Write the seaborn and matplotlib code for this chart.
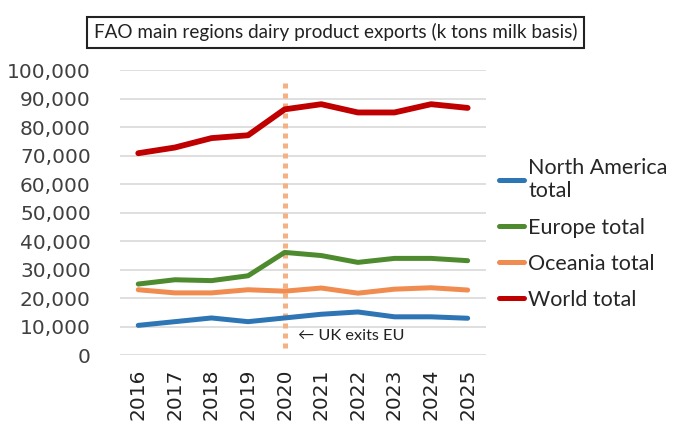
import matplotlib
matplotlib.use("Agg")
import matplotlib.pyplot as plt
import seaborn as sns
import pandas as pd

years = [2016, 2017, 2018, 2019, 2020, 2021, 2022, 2023, 2024, 2025]
north_america = [10400, 11700, 13000, 11700, 13000, 14300, 15100, 13400, 13400, 12900]
europe = [24900, 26400, 26100, 27800, 36000, 34900, 32500, 33900, 33900, 33100]
oceania = [22900, 21800, 21800, 22900, 22400, 23500, 21700, 23100, 23600, 22800]
world = [70800, 72800, 76100, 77100, 86200, 88000, 85100, 85100, 88000, 86700]
series_names = ["North America\ntotal", "Europe total", "Oceania total", "World total"]
colors = ["#2E75B6", "#4E8B2E", "#F08C50", "#C00000"]
title = "FAO main regions dairy product exports (k tons milk basis)"
event_year = 2020
event_label = "\u2190 UK exits EU"

rows = []
for name, vals in zip(series_names, [north_america, europe, oceania, world]):
    for y, v in zip(years, vals):
        rows.append({"year": y, "value": v, "series": name})
df = pd.DataFrame(rows)

sns.set_style("white")
plt.rcParams["font.family"] = ["DejaVu Sans"]

fig = plt.figure(figsize=(6.74, 4.30), dpi=100)
ax = fig.add_axes([0.178, 0.1744, 0.543, 0.6628])

for name, col in zip(series_names, colors):
    sub = df[df["series"] == name]
    lw = 4.2 if name == "World total" else 3.6
    sns.lineplot(data=sub, x="year", y="value", color=col, linewidth=lw,
                 ax=ax, label=name, solid_capstyle="round", solid_joinstyle="round")

ax.vlines(event_year, 2300, 96200, colors="#F4B183", linewidth=3.6,
          linestyles=(0, (1, 1)), zorder=1)
ax.text(event_year + 0.36, 6800, event_label, fontsize=11.7,
        family=["Lato", "DejaVu Sans"], color="#222222", va="center", ha="left")

ax.set_xlim(2015.5, 2025.5)
ax.set_ylim(0, 100000)
ax.set_yticks(range(0, 100001, 10000))
ax.set_yticklabels([f"{v:,}" for v in range(0, 100001, 10000)])
ax.set_xticks(years)
ax.set_xticklabels([str(y) for y in years], rotation=90)
ax.tick_params(axis="y", labelsize=14.5, labelcolor="#404040", length=0, pad=21)
ax.tick_params(axis="x", labelsize=14.5, labelcolor="#222222", length=0, pad=10)
ax.grid(axis="y", color="#D9D9D9", linewidth=1.2)
ax.grid(axis="x", visible=False)
for s in ax.spines.values():
    s.set_visible(False)
ax.set_xlabel("")
ax.set_ylabel("")

leg = ax.legend(loc="upper left", bbox_to_anchor=(0.728, 0.652), bbox_transform=fig.transFigure,
                frameon=False, handlelength=1.15, handletextpad=0.2, labelspacing=0.75,
                prop={"family": ["Lato", "DejaVu Sans"], "size": 15.5}, borderaxespad=0)
for line in leg.get_lines():
    line.set_linewidth(3.6)

fig.text(0.498, 0.925, title, ha="center", va="center", fontsize=13.6,
         family=["Lato", "DejaVu Sans"], color="#222222",
         bbox=dict(boxstyle="square,pad=0.35", facecolor="white", edgecolor="#222222", linewidth=1.5))

fig.savefig("out.png", dpi=100)
